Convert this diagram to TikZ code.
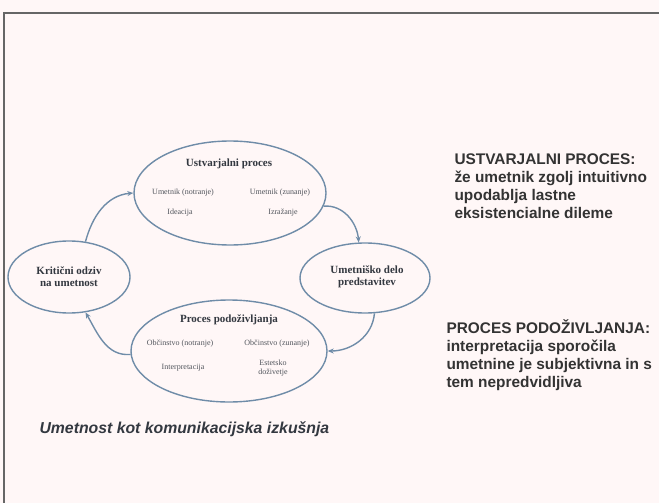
\documentclass[tikz,border=0pt]{standalone}
\usepackage{fontspec}
\setmainfont{Liberation Serif}
\setsansfont{Liberation Sans}
\usetikzlibrary{shapes.geometric,arrows.meta}
\definecolor{ell}{HTML}{6F8CA8}
\definecolor{txt}{HTML}{333840}
\tikzset{
  bub/.style={ellipse, draw=ell, line width=1.4pt, inner sep=0pt},
  arr/.style={draw=ell, line width=1.4pt, -{Stealth[length=6pt,width=5pt]}},
  ttl/.style={font=\bfseries\fontsize{11}{12}\selectfont, text=txt, align=center},
  sml/.style={font=\fontsize{8}{9}\selectfont, text=txt!85, align=center},
  side/.style={font=\sffamily\bfseries\fontsize{15.4}{18}\selectfont, text=black!80, align=left, anchor=north west}
}
\begin{document}
\begin{tikzpicture}[x=1pt,y=-1pt]
\useasboundingbox[fill=white!97!red] (0,0) rectangle (659,503);
\draw[black!60, line width=1.2pt] (4,503) -- (4,13) -- (659,13);
% ellipses
\node[bub, minimum width=192pt, minimum height=104pt] (T) at (230,193) {};
\node[bub, minimum width=196pt, minimum height=102pt] (B) at (229,351) {};
\node[bub, minimum width=122pt, minimum height=72pt] (L) at (69,277) {};
\node[bub, minimum width=130pt, minimum height=70pt] (R) at (365,278) {};
% texts inside
\node[ttl] (Tt) at (229,164) {Ustvarjalni proces};
\node[sml] (T1) at (183,193) {Umetnik (notranje)};
\node[sml] (T2) at (180,213) {Ideacija};
\node[sml] (T3) at (280,193) {Umetnik (zunanje)};
\node[sml] (T4) at (283,213) {Izražanje};
\node[ttl] (Bt) at (229,320) {Proces podoživljanja};
\node[sml] (B1) at (180,344) {Občinstvo (notranje)};
\node[sml] (B2) at (183,368) {Interpretacija};
\node[sml] (B3) at (277,344) {Občinstvo (zunanje)};
\node[sml] (B4) at (273,368) {Estetsko\\doživetje};
\node[ttl] (Lt) at (69,277) {Kritični odziv\\na umetnost};
\node[ttl] (Rt) at (367,277) {Umetniško delo\\predstavitev};
% connectors
\draw[arr] (L.65) to[out=75,in=185] (T.west);
\draw[arr] (T.-8) to[out=5,in=95] (R.100);
\draw[arr] (R.-75) to[out=-95,in=0] (B.east);
\draw[arr] (B.182) to[out=185,in=-60] (L.-65);
% side texts
\node[side] (S1) at (451,150) {USTVARJALNI PROCES:\\že umetnik zgolj intuitivno\\upodablja lastne\\eksistencialne dileme};
\node[side] (S2) at (443,316) {PROCES PODOŽIVLJANJA:\\interpretacija sporočila\\umetnine je subjektivna in s\\tem nepredvidljiva};
\node[font=\sffamily\bfseries\itshape\fontsize{15.8}{17}\selectfont, text=txt, anchor=west] (cap) at (36,429) {Umetnost kot komunikacijska izkušnja};
\end{tikzpicture}
\end{document}
